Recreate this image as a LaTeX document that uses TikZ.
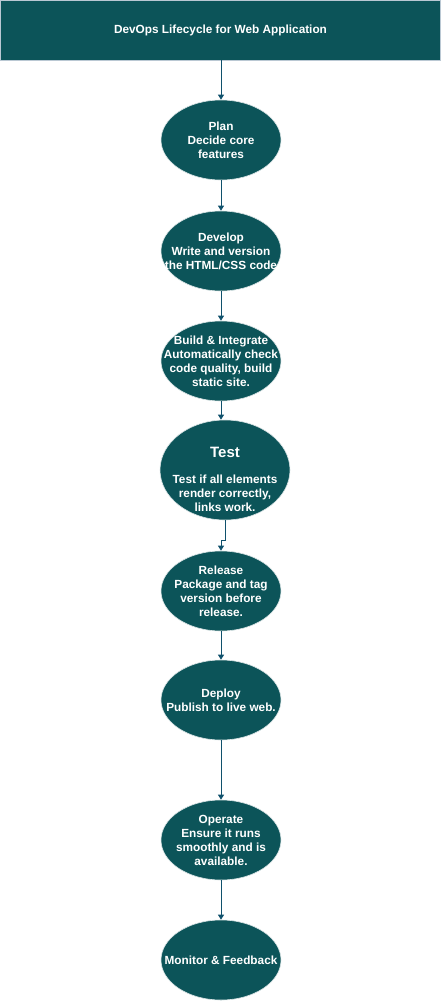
\documentclass[tikz,border=0pt]{standalone}
\usepackage{fontspec}
\setmainfont{Liberation Sans}
\usetikzlibrary{shapes.geometric}
\usetikzlibrary{arrows.meta}

\definecolor{tealfill}{HTML}{0C5459}
\definecolor{headline}{HTML}{BAC8D3}
\definecolor{arrowblue}{HTML}{10516C}

\begin{document}
\begin{tikzpicture}[x=1pt,y=-1pt,
    stage/.style={ellipse,fill=tealfill,draw=white!85!tealfill,line width=0.6pt,
      minimum width=120pt,minimum height=80pt,inner sep=0pt},
    stagetext/.style={align=center,inner sep=0pt,text=white,
      font=\fontsize{11.8}{14}\selectfont\bfseries},
    flow/.style={draw=arrowblue,line width=0.9pt,-{Triangle[length=5pt,width=6pt]}}]
    \useasboundingbox (0,0) rectangle (441,1001);

    % Title bar
    \node [rectangle,fill=tealfill,draw=headline,line width=0.8pt,
      minimum width=440pt,minimum height=60pt,inner sep=0pt,
      text=white,font=\fontsize{11.8}{14}\selectfont\bfseries]
      (title) at (220.5,30) {DevOps Lifecycle for Web Application};

    % Stages of the cycle
    \node [stage,label={[stagetext]center:{Plan\\Decide core\\features}}]
      (plan) at (221,140) {};
    \node [stage,label={[stagetext]center:{Develop\\Write and version\\the HTML/CSS code}}]
      (develop) at (221,251) {};
    \node [stage,label={[stagetext]center:{Build \& Integrate\\Automatically check\\code quality, build\\static site.}}]
      (build) at (221,361) {};
    \node [stage,minimum width=130pt,minimum height=100pt,
      label={[stagetext,yshift=-9pt]center:{{\fontsize{15}{17}\selectfont Test}\\[12pt]Test if all elements\\render correctly,\\links work.}}]
      (test) at (225,470) {};
    \node [stage,label={[stagetext]center:{Release\\Package and tag\\version before\\release.}}]
      (release) at (221,591) {};
    \node [stage,label={[stagetext]center:{Deploy\\Publish to live web.}}]
      (deploy) at (221,700) {};
    \node [stage,label={[stagetext]center:{Operate\\Ensure it runs\\smoothly and is\\available.}}]
      (operate) at (221,840) {};
    \node [stage,label={[stagetext]center:{Monitor \& Feedback}}]
      (monitor) at (221,960) {};

    % Connectors
    \draw [flow] (title.south -| plan.north) -- (plan.north);
    \draw [flow] (plan) -- (develop);
    \draw [flow] (develop) -- (build);
    \draw [flow] (build.south) -- (build.south |- test.north);
    \draw [flow] (test.south) -- ++(0,20) -| (release.north);
    \draw [flow] (release) -- (deploy);
    \draw [flow] (deploy) -- (operate);
    \draw [flow] (operate) -- (monitor);
\end{tikzpicture}
\end{document}
